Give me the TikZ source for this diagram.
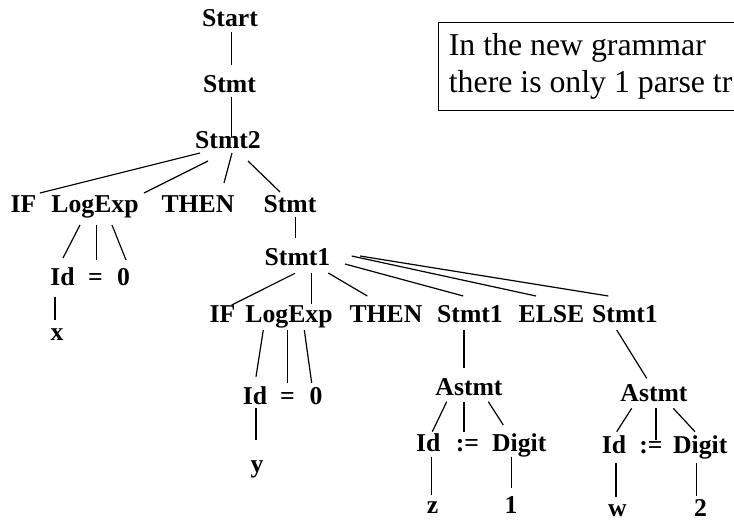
\documentclass[tikz,border=0pt]{standalone}
\usepackage{fontspec}
\setmainfont{Liberation Serif}
\begin{document}
\begin{tikzpicture}[x=1pt,y=-1pt,
  lbl/.style={font=\fontsize{25.7}{30}\selectfont\bfseries, inner sep=0pt, anchor=base},
  note/.style={font=\fontsize{31.8}{36}\selectfont, inner sep=0pt, anchor=base west},
  edge/.style={line width=1.2pt}]
\clip (0,0) rectangle (734,522);
\fill[white] (0,0) rectangle (734,522);
% note box
\draw[line width=1pt] (438,22.7) rectangle (780,110);
\node[note] (note1) at (448.7,55) {In the new grammar};
\node[note] (note2) at (448.7,92.7) {there is only 1 parse tr};
% nodes
\node[lbl] (start) at (230,27) {Start};
\node[lbl] (stmtA) at (229.5,92) {Stmt};
\node[lbl] (stmt2) at (228,148) {Stmt2};
\node[lbl] (if1) at (23.5,212) {IF};
\node[lbl] (logexp1) at (95,212) {LogExp};
\node[lbl] (then1) at (198,212) {THEN};
\node[lbl] (stmtB) at (290,212) {Stmt};
\node[lbl] (idA) at (62.5,285) {Id};
\node[lbl] (eqA) at (95.5,285) {=};
\node[lbl] (zeroA) at (123.5,285) {0};
\node[lbl] (xA) at (57,340) {x};
\node[lbl] (stmt1A) at (297.5,265) {Stmt1};
\node[lbl] (if2) at (222.5,322) {IF};
\node[lbl] (logexp2) at (289,322) {LogExp};
\node[lbl] (then2) at (386,322) {THEN};
\node[lbl] (stmt1B) at (470,322) {Stmt1};
\node[lbl] (else) at (551.5,322) {ELSE};
\node[lbl] (stmt1C) at (625,322) {Stmt1};
\node[lbl] (idB) at (255,404) {Id};
\node[lbl] (eqB) at (287.5,404) {=};
\node[lbl] (zeroB) at (316,404) {0};
\node[lbl] (yB) at (257,472.7) {y};
\node[lbl] (astmtA) at (469,395) {Astmt};
\node[lbl] (idC) at (428.3,451.7) {Id};
\node[lbl] (asgC) at (467.5,451.7) {:=};
\node[lbl] (digitC) at (519.2,451.7) {Digit};
\node[lbl] (zC) at (432.5,513.5) {z};
\node[lbl] (oneC) at (511,513) {1};
\node[lbl] (astmtB) at (654,401.7) {Astmt};
\node[lbl] (idD) at (614,453.3) {Id};
\node[lbl] (asgD) at (651,453.3) {:=};
\node[lbl] (digitD) at (700.3,453.3) {Digit};
\node[lbl] (wD) at (617.3,516) {w};
\node[lbl] (twoD) at (700.5,516) {2};
% connectors
\newcommand\tedge[4]{\draw[edge] ([shift={(#2)}]#1.base) -- ([shift={(#4)}]#3.base);}
\tedge{start}{1.7,4.7}{stmtA}{2.2,-27}
\tedge{stmtA}{2.2,4.7}{stmt2}{3.7,-11.3}
\tedge{stmt2}{-28,5}{if1}{16.5,-19}
\tedge{stmt2}{-20,13}{logexp1}{49,-19}
\tedge{stmt2}{4,5}{then1}{26,-29}
\tedge{stmt2}{20,13}{stmtB}{-10,-20}
\tedge{logexp1}{-15,13}{idA}{0.5,-27}
\tedge{logexp1}{1.7,13}{eqA}{1.2,-25}
\tedge{logexp1}{17,13}{zeroA}{2.5,-25}
\tedge{idA}{-7.5,11.7}{xA}{-2,-20}
\tedge{stmtB}{5.7,5}{stmt1A}{-1.8,-27}
\tedge{stmt1A}{-2.5,8.3}{if2}{9.2,-17}
\tedge{stmt1A}{14.2,8.3}{logexp2}{22.7,-18}
\tedge{stmt1A}{30.8,8}{then2}{-18.7,-26}
\tedge{stmt1A}{47.5,-1}{stmt1B}{-6.7,-26}
\tedge{stmt1A}{54.2,-9}{else}{-15.5,-26}
\tedge{stmt1A}{62.5,-9}{stmt1C}{-16.7,-26}
\tedge{logexp2}{-25.7,8}{idB}{1,-27.3}
\tedge{logexp2}{-1.3,8}{eqB}{0.2,-21}
\tedge{logexp2}{15.3,8}{zeroB}{-4.3,-21}
\tedge{idB}{1,4}{yB}{-1,-32.7}
\tedge{stmt1B}{-6,8}{astmtA}{-5,-26.7}
\tedge{astmtA}{-22.3,6.7}{idC}{4,-20}
\tedge{astmtA}{-5,6.7}{asgC}{-3.5,-20}
\tedge{astmtA}{19.3,6.7}{digitC}{-15.9,-26.7}
\tedge{idC}{3.4,5}{zC}{-0.8,-18.5}
\tedge{digitC}{-7.5,5}{oneC}{0.7,-24.7}
\tedge{stmt1C}{-8.3,8}{astmtB}{-7.3,-23.4}
\tedge{astmtB}{-22.3,6.6}{idD}{2.7,-21.6}
\tedge{astmtB}{2,6.6}{asgD}{5,-13.3}
\tedge{astmtB}{19.3,6.6}{digitD}{-5.3,-21.6}
\tedge{idD}{2,10}{wD}{-1.3,-19.3}
\tedge{digitD}{-3.6,10}{twoD}{-3.8,-20}
\end{tikzpicture}
\end{document}
